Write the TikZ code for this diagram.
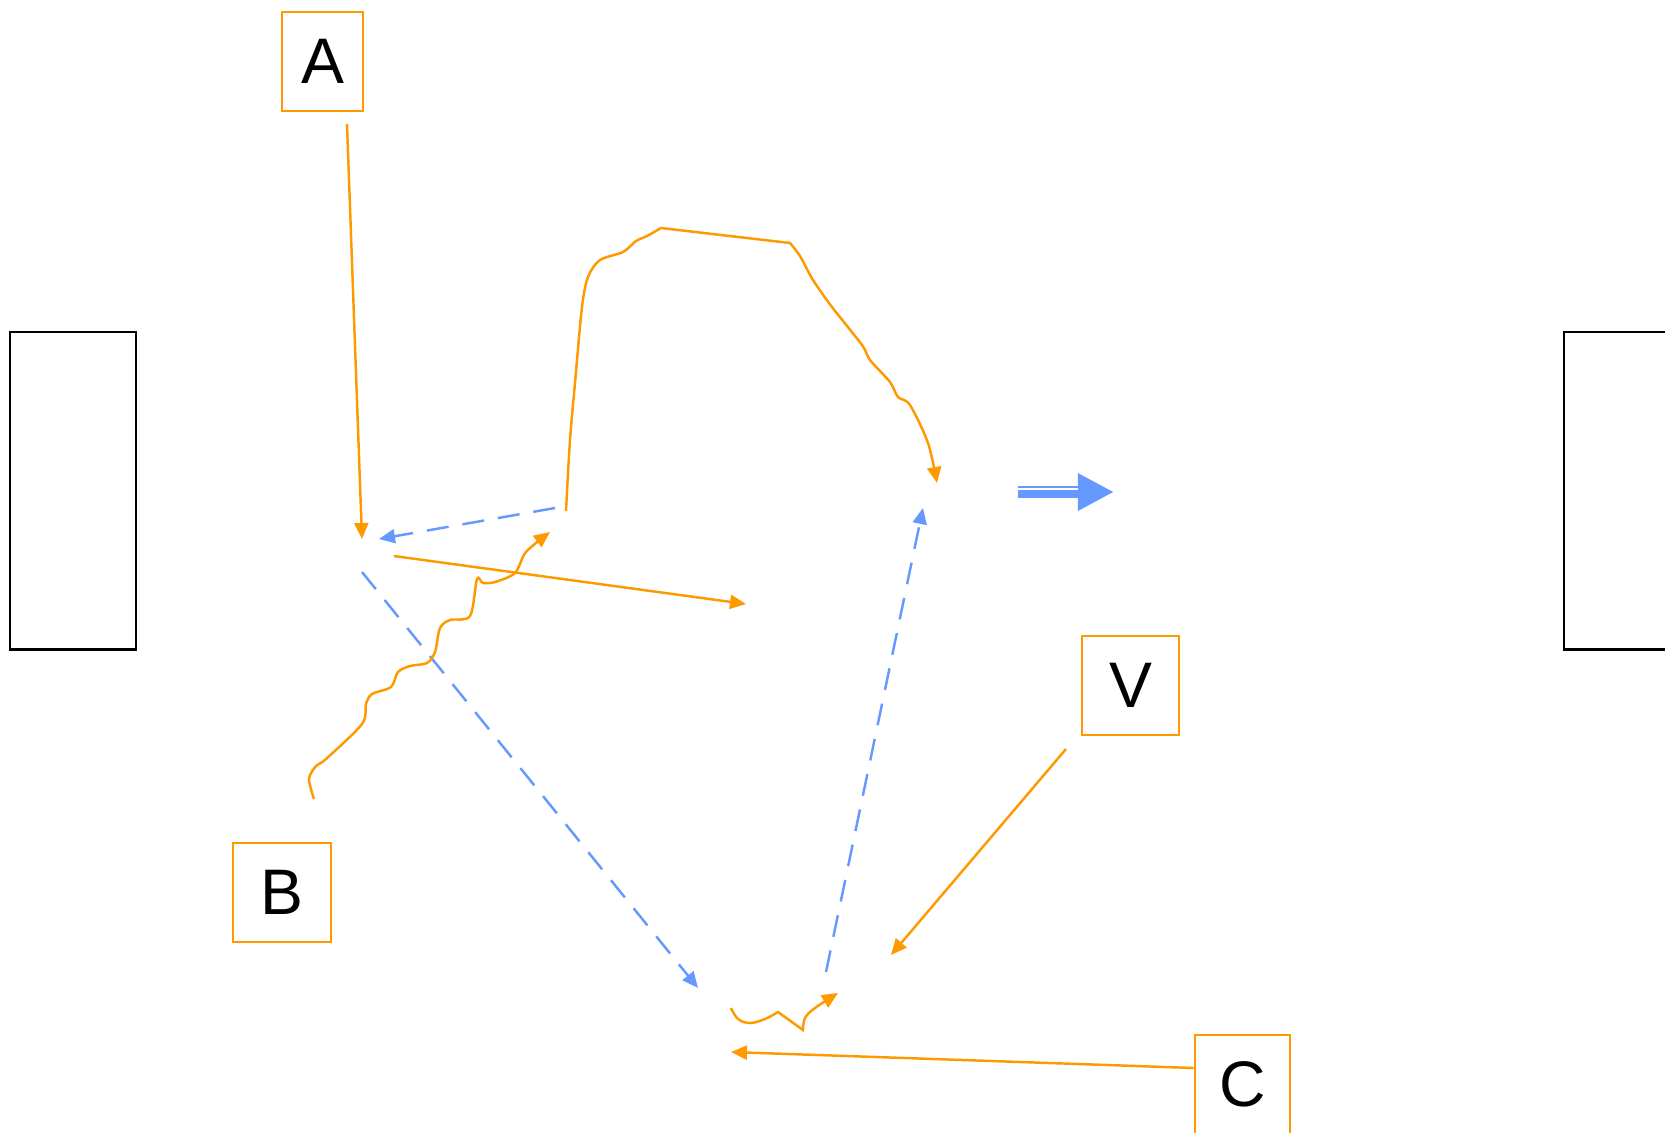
\documentclass[tikz,border=0pt]{standalone}
\usepackage{fontspec}
\setmainfont{Liberation Sans}
\usetikzlibrary{arrows.meta}
\definecolor{flowOrange}{RGB}{255,153,0}
\definecolor{flowBlue}{RGB}{102,153,255}

\begin{document}
\begin{tikzpicture}[
    x=0.01cm, y=-0.01cm,
    tag/.style={draw=flowOrange, line width=0.8pt, minimum height=0.99cm, inner sep=0pt, font=\fontsize{18.3}{22}\selectfont},
    panel/.style={draw=black, line width=0.8pt, minimum width=1.26cm, minimum height=3.17cm},
    flow/.style={flowOrange, line width=0.7pt, -{Triangle[length=0.16cm, width=0.14cm]}},
    dashlink/.style={flowBlue, line width=0.7pt, dash pattern=on 0.22cm off 0.14cm, -{Triangle[length=0.16cm, width=0.14cm]}},
    move/.style={flowBlue, line width=0.12cm, -{Triangle[length=0.36cm, width=0.35cm]}}
]
\useasboundingbox (0,0) rectangle (1665,1132);

% Side panels
\node[panel] (left)  at (73,   490.5) {};
\node[panel] (right) at (1627, 490.5) {};

% Labelled boxes
\node[tag, minimum width=0.81cm] (A) at (322.5,  61.5)  {A};
\node[tag, minimum width=0.98cm] (B) at (282,    892.5) {B};
\node[tag, minimum width=0.97cm] (V) at (1130.5, 685.5) {V};
\node[tag, minimum width=0.95cm] (C) at (1242.5, 1084.5) {C};

% Free ends of the connectors
\coordinate (a-src) at (347, 124);
\coordinate (a-dst) at (362, 539);
\coordinate (p-src) at (555, 508);
\coordinate (p-dst) at (379, 539);
\coordinate (q-src) at (394, 556);
\coordinate (q-dst) at (746, 604);
\coordinate (r-src) at (362, 572);
\coordinate (r-dst) at (698, 988);
\coordinate (b-src) at (314, 799);
\coordinate (b-dst) at (550, 532);
\coordinate (t-src) at (566, 511);
\coordinate (t-dst) at (937, 483);
\coordinate (u-src) at (826, 972);
\coordinate (u-dst) at (923, 508);
\coordinate (v-src) at (1066, 749);
\coordinate (v-dst) at (891, 955);
\coordinate (c-dst) at (731, 1052);
\coordinate (s-src) at (731, 1008);
\coordinate (s-dst) at (838, 993);
\coordinate (m-src) at (1018, 492);
\coordinate (m-dst) at (1114, 492);

% Straight orange connectors
\draw[flow] (a-src) -- (a-dst);
\draw[flow] (q-src) -- (q-dst);
\draw[flow] (v-src) -- (v-dst);
\draw[flow] ([yshift=0.165cm]C.west) -- (c-dst);

% Dashed blue connectors
\draw[dashlink] (p-src) -- (p-dst);
\draw[dashlink] (r-src) -- (r-dst);
\draw[dashlink] (u-src) -- (u-dst);

% Wavy connector from B
\draw[flow] plot[smooth, tension=0.5] coordinates {(b-src) (309,779) (316,766) (326,759) (362,724) (366,704) (372,694) (391,687) (398,672) (410,666) (427,663) (435,652) (440,628) (450,620) (470,616) (477,579) (483,583) (495,582) (515,573) (526,552) (b-dst)};

% Long arc over the top
\draw[flow] plot[smooth, tension=0.5] coordinates {(t-src) (570,440) (575,383) (582,307) (588,277) (600,260) (623,252) (636,241) (647,236) (661,228)} -- (790,243) -- plot[smooth, tension=0.5] coordinates {(790,243) (800,256) (813,280) (832,307) (862,345) (870,360) (890,382) (898,397) (910,405) (928,443) (t-dst)};

% Small squiggle at the bottom
\draw[flow] plot[smooth, tension=0.6] coordinates {(s-src) (738,1019) (750,1023) (765,1019) (778,1012)} -- plot[smooth, tension=0.6] coordinates {(803,1030) (805,1018) (815,1008) (s-dst)};

% Big double arrow
\draw[move] (m-src) -- (m-dst);
\draw[white, line width=0.3pt] ([yshift=0.03cm]m-src) -- ([xshift=-0.36cm, yshift=0.03cm]m-dst);

\end{tikzpicture}
\end{document}
